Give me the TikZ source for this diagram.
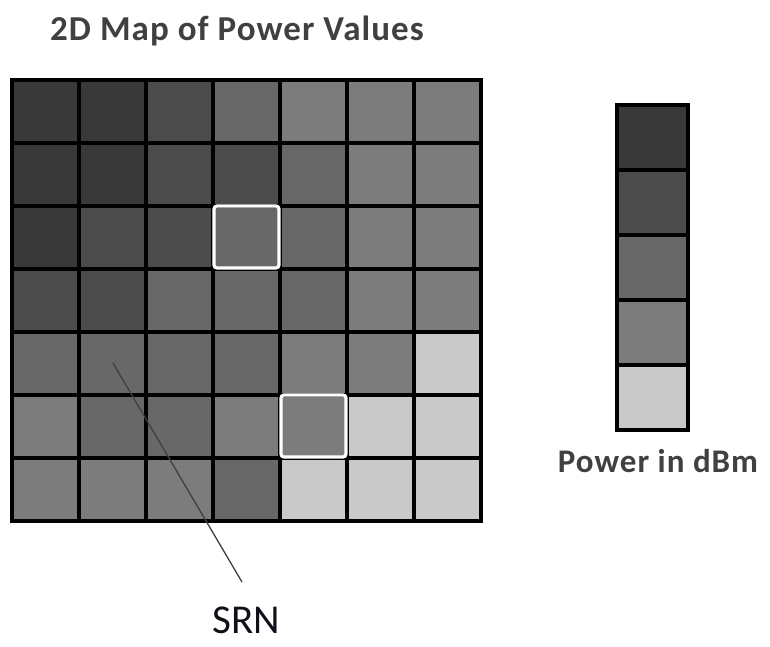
\documentclass[tikz,border=0pt]{standalone}
\usepackage{fontspec}
\setmainfont{Carlito}
\definecolor{lev1}{HTML}{393939}
\definecolor{lev2}{HTML}{4B4B4B}
\definecolor{lev3}{HTML}{686868}
\definecolor{lev4}{HTML}{7C7C7C}
\definecolor{lev5}{HTML}{C9C9C9}
\definecolor{txtgray}{HTML}{404040}
\definecolor{txtdark}{HTML}{101018}
\tikzset{
  gridline/.style={line width=4.5pt, black},
  markbox/.style={draw=white, line width=3.2pt, rounded corners=3pt},
  pointer/.style={draw=black!75, line width=1.3pt},
  label/.style={font=\fontsize{#1}{#1}\selectfont, inner sep=0pt, anchor=base},
  boldlabel/.style={font=\fontsize{#1}{#1}\selectfont\bfseries\addfontfeatures{LetterSpace=3}, inner sep=0pt, anchor=base},
}
\begin{document}
\begin{tikzpicture}[x=1pt,y=-1pt]
\useasboundingbox (0,0) rectangle (770,646);
% cells
\foreach \row [count=\r from 0] in {{1,1,2,3,4,4,4},{1,1,2,2,3,4,4},{1,2,2,3,3,4,4},{2,2,3,3,3,4,4},{3,3,3,3,4,4,5},{4,3,3,4,4,5,5},{4,4,4,3,5,5,5}} {
  \foreach \v [count=\c from 0] in \row {
    \fill[fill=lev\v] (12+67*\c, 80+63*\r) rectangle ++(67,63);
  }
}
\foreach \i in {0,...,7} {
  \draw[gridline] (12+67*\i, 80) -- (12+67*\i, 521);
  \draw[gridline] (12, 80+63*\i) -- (481, 80+63*\i);
}
\draw[gridline] (12,80) rectangle (481,521);
% highlighted cells
\draw[markbox] (214,206) rectangle (279,268);
\draw[markbox] (281,395) rectangle (346,457);
% legend
\foreach \v [count=\k from 0] in {1,2,3,4,5} {
  \fill[fill=lev\v] (617, 105+65*\k) rectangle ++(71,65);
}
\foreach \k in {0,...,5} {
  \draw[gridline] (617, 105+65*\k) -- (688, 105+65*\k);
}
\draw[gridline] (617,105) rectangle (688,430);
% texts
\node[boldlabel=35, text=txtgray] (title) at (237,40) {2D Map of Power Values};
\node[boldlabel=33, text=txtgray] (unit) at (658,472) {Power in dBm};
\node[label=41, text=txtdark] (srn) at (246,633) {SRN};
\coordinate (tip) at (113,363);
\coordinate (lineend) at (242,582);
\draw[pointer] (tip) -- (lineend);
\end{tikzpicture}
\end{document}
